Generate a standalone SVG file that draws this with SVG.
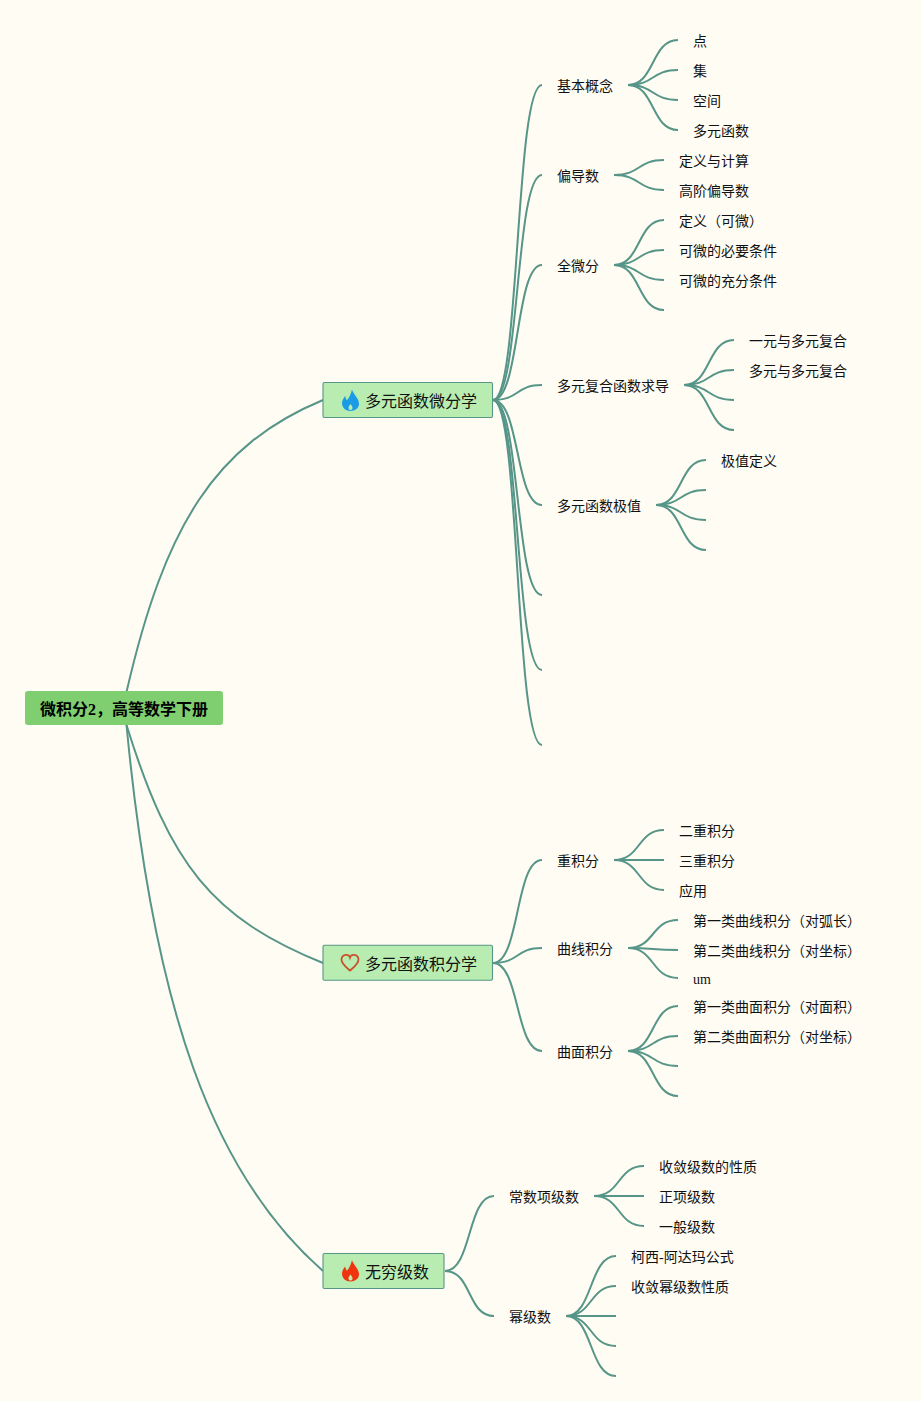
<svg xmlns="http://www.w3.org/2000/svg" width="921" height="1401" viewBox="0 0 921 1401">
<style>
text{font-family:"Liberation Serif","Noto Sans CJK SC",serif;font-size:14px;fill:#111}
.l1{font-size:16px}
.root{font-size:16px;font-weight:bold;fill:#000}
.box{fill:#b9ecb0;stroke:#569588;stroke-width:1.100}
#connectors path{fill:none;stroke:#569588;stroke-width:2;stroke-linecap:butt}
</style>
<rect width="921" height="1401" fill="#fffcf3"/>
<g id="connectors">
<path d="M126.500 692C165 525 215 445 323 400"/>
<path d="M126.500 725C170 865 212 918 323 963"/>
<path d="M126.500 725C153.600 1010 212.500 1174 323 1271"/>
<path d="M493 400C520 400 515 85 542 85"/>
<path d="M493 400C520 400 515 175 542 175"/>
<path d="M493 400C520 400 515 265 542 265"/>
<path d="M493 400C520 400 515 385 542 385"/>
<path d="M493 400C520 400 515 505 542 505"/>
<path d="M493 400C520 400 515 595 542 595"/>
<path d="M493 400C520 400 515 670 542 670"/>
<path d="M493 400C520 400 515 745 542 745"/>
<path d="M628 85C655 85 651 40 678 40"/>
<path d="M628 85C655 85 651 70 678 70"/>
<path d="M628 85C655 85 651 100 678 100"/>
<path d="M628 85C655 85 651 130 678 130"/>
<path d="M614 175C641 175 637 160 664 160"/>
<path d="M614 175C641 175 637 190 664 190"/>
<path d="M614 265C641 265 637 220 664 220"/>
<path d="M614 265C641 265 637 250 664 250"/>
<path d="M614 265C641 265 637 280 664 280"/>
<path d="M614 265C641 265 637 310 664 310"/>
<path d="M684 385C711 385 707 340 734 340"/>
<path d="M684 385C711 385 707 370 734 370"/>
<path d="M684 385C711 385 707 400 734 400"/>
<path d="M684 385C711 385 707 430 734 430"/>
<path d="M656 505C683 505 679 460 706 460"/>
<path d="M656 505C683 505 679 490 706 490"/>
<path d="M656 505C683 505 679 520 706 520"/>
<path d="M656 505C683 505 679 550 706 550"/>
<path d="M493 963C520 963 515 860 542 860"/>
<path d="M493 963C520 963 515 948 542 948"/>
<path d="M493 963C520 963 515 1051 542 1051"/>
<path d="M614 860C641 860 637 830 664 830"/>
<path d="M614 860C641 860 637 860 664 860"/>
<path d="M614 860C641 860 637 890 664 890"/>
<path d="M628 948C655 948 651 920 678 920"/>
<path d="M628 948C655 948 651 950 678 950"/>
<path d="M628 948C655 948 651 978 678 978"/>
<path d="M628 1051C655 1051 651 1006 678 1006"/>
<path d="M628 1051C655 1051 651 1036 678 1036"/>
<path d="M628 1051C655 1051 651 1066 678 1066"/>
<path d="M628 1051C655 1051 651 1096 678 1096"/>
<path d="M445 1271C472 1271 467 1196 494 1196"/>
<path d="M445 1271C472 1271 467 1316 494 1316"/>
<path d="M594 1196C621 1196 617 1166 644 1166"/>
<path d="M594 1196C621 1196 617 1196 644 1196"/>
<path d="M594 1196C621 1196 617 1226 644 1226"/>
<path d="M566 1316C593 1316 589 1256 616 1256"/>
<path d="M566 1316C593 1316 589 1286 616 1286"/>
<path d="M566 1316C593 1316 589 1316 616 1316"/>
<path d="M566 1316C593 1316 589 1346 616 1346"/>
<path d="M566 1316C593 1316 589 1376 616 1376"/>
</g>
<g id="root"><rect x="25" y="691" width="198" height="34" rx="3" fill="#7fce6f"/><text class="root" x="40" y="715">微积分2，高等数学下册</text></g>
<g id="n1"><rect class="box" x="323" y="382.500" width="169.500" height="35" rx="1.500"/>
<path d="M352 389.500C353 394 359 398 359 404C359 408 355 411 350.500 411C346 411 342 408 342 403C342 400 344 398 345 396C346 398 346 400 347 400C349 398 351 394 352 389.500Z" fill="#1a9be6"/>
<path d="M350.500 404C352 406 352.500 406.500 352.500 408C352.500 409.500 351.500 410 350.500 410C349.500 410 348.500 409.500 348.500 408C348.500 406.500 349 406 350.500 404Z" fill="#b9ecb0"/>
<text class="l1" x="365" y="407">多元函数微分学</text></g>
<g id="n2"><rect class="box" x="323" y="945.300" width="169.500" height="35" rx="1.500"/>
<path d="M350 970.500C346 967 341.500 964 341.500 959.500C341.500 956.500 344 954.800 346.500 954.800C348 954.800 349.500 955.800 350 957.500C350.500 955.800 352 954.800 353.500 954.800C356 954.800 358.500 956.500 358.500 959.500C358.500 964 354 967 350 970.500Z" fill="none" stroke="#c8532a" stroke-width="1.800"/>
<text class="l1" x="365" y="970">多元函数积分学</text></g>
<g id="n3"><rect class="box" x="323" y="1253.500" width="121" height="35" rx="1.500"/>
<path d="M352 1260C353 1264.500 359 1268.500 359 1274.500C359 1278.500 355 1281.500 350.500 1281.500C346 1281.500 342 1278.500 342 1273.500C342 1270.500 344 1268.500 345 1266.500C346 1268.500 346 1270.500 347 1270.500C349 1268.500 351 1264.500 352 1260Z" fill="#f0340f"/>
<path d="M350.500 1274.500C352 1276.500 352.500 1277 352.500 1278.500C352.500 1280 351.500 1280.500 350.500 1280.500C349.500 1280.500 348.500 1280 348.500 1278.500C348.500 1277 349 1276.500 350.500 1274.500Z" fill="#b9ecb0"/>
<text class="l1" x="365" y="1278">无穷级数</text></g>
<g id="labels">
<text x="557" y="91">基本概念</text>
<text x="693" y="46">点</text>
<text x="693" y="76">集</text>
<text x="693" y="106">空间</text>
<text x="693" y="136">多元函数</text>
<text x="557" y="181">偏导数</text>
<text x="679" y="166">定义与计算</text>
<text x="679" y="196">高阶偏导数</text>
<text x="557" y="271">全微分</text>
<text x="679" y="226">定义（可微）</text>
<text x="679" y="256">可微的必要条件</text>
<text x="679" y="286">可微的充分条件</text>
<text x="557" y="391">多元复合函数求导</text>
<text x="749" y="346">一元与多元复合</text>
<text x="749" y="376">多元与多元复合</text>
<text x="557" y="511">多元函数极值</text>
<text x="721" y="466">极值定义</text>
<text x="557" y="866">重积分</text>
<text x="679" y="836">二重积分</text>
<text x="679" y="866">三重积分</text>
<text x="679" y="896">应用</text>
<text x="557" y="954">曲线积分</text>
<text x="693" y="926">第一类曲线积分（对弧长）</text>
<text x="693" y="956">第二类曲线积分（对坐标）</text>
<text x="693" y="984">um</text>
<text x="557" y="1057">曲面积分</text>
<text x="693" y="1012">第一类曲面积分（对面积）</text>
<text x="693" y="1042">第二类曲面积分（对坐标）</text>
<text x="509" y="1202">常数项级数</text>
<text x="659" y="1172">收敛级数的性质</text>
<text x="659" y="1202">正项级数</text>
<text x="659" y="1232">一般级数</text>
<text x="509" y="1322">幂级数</text>
<text x="631" y="1262">柯西-阿达玛公式</text>
<text x="631" y="1292">收敛幂级数性质</text>
</g>
</svg>
